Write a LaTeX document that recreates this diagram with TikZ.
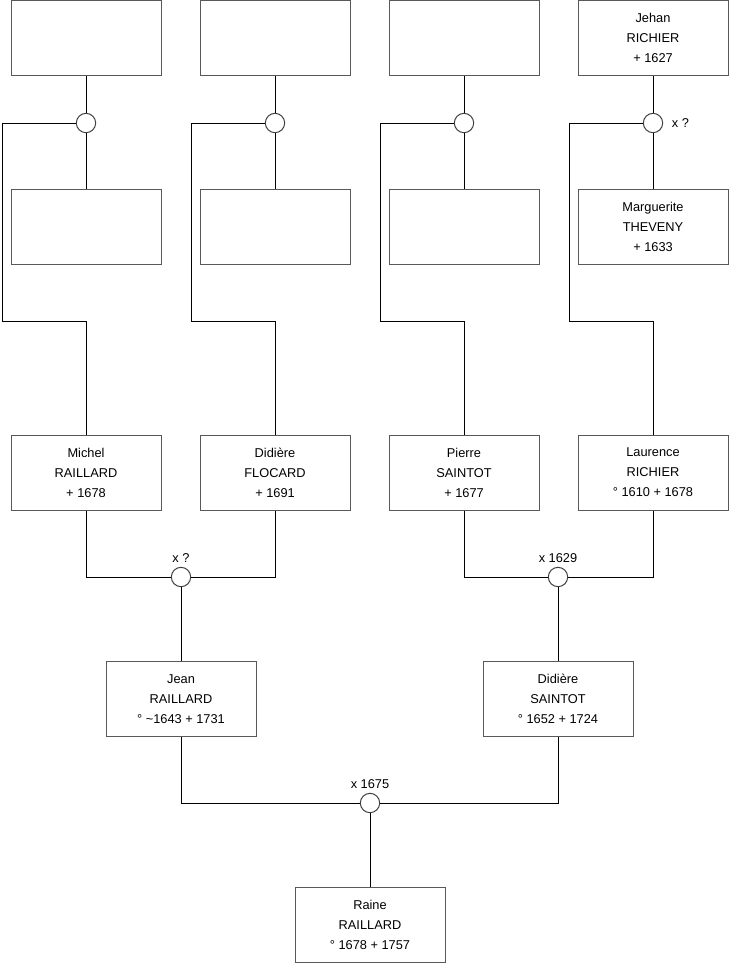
\documentclass[tikz,border=0pt]{standalone}
\usepackage{fontspec}
\setmainfont{Liberation Sans}
\begin{document}
\begin{tikzpicture}[
    x=0.75pt, y=-0.75pt,
    every node/.style={font=\fontsize{9.6}{15}\selectfont},
    person/.style={draw=black!65, line width=0.75pt, minimum width=112.5pt,
        minimum height=56.25pt, align=center, inner sep=0pt},
    union/.style={circle, draw=black!75, fill=white, line width=0.75pt,
        minimum size=14.5pt, inner sep=0pt},
    link/.style={draw=black, line width=0.75pt}
]
\useasboundingbox (0,0) rectangle (740,975);

% great-grandparents
\node[person] (t1) at (86,38) {};
\node[person] (t2) at (275,38) {};
\node[person] (t3) at (464,38) {};
\node[person] (t4) at (653,38) {Jehan\\RICHIER\\+ 1627};
\node[union] (c1) at (86,123) {};
\node[union] (c2) at (275,123) {};
\node[union] (c3) at (464,123) {};
\node[union, label={[label distance=3pt]right:x ?}] (c4) at (653,123) {};
\node[person] (w1) at (86,226.5) {};
\node[person] (w2) at (275,226.5) {};
\node[person] (w3) at (464,226.5) {};
\node[person] (w4) at (653,226.5) {Marguerite\\THEVENY\\+ 1633};

% grandparents
\node[person] (michel) at (86,472.5) {Michel\\RAILLARD\\+ 1678};
\node[person] (flocard) at (275,472.5) {Didière\\FLOCARD\\+ 1691};
\node[person] (pierre) at (464,472.5) {Pierre\\SAINTOT\\+ 1677};
\node[person] (laurence) at (653,472.5) {Laurence\\RICHIER\\° 1610 + 1678};
\node[union, label=above:x ?] (u1) at (181,577) {};
\node[union, label=above:x 1629] (u2) at (558,577) {};

% parents
\node[person] (jean) at (181,699) {Jean\\RAILLARD\\° \textasciitilde1643 + 1731};
\node[person] (saintot) at (558,699) {Didière\\SAINTOT\\° 1652 + 1724};
\node[union, label=above:x 1675] (u3) at (370,803) {};
\node[person] (raine) at (370,925) {Raine\\RAILLARD\\° 1678 + 1757};

\coordinate (k1) at (2,321);
\coordinate (k2) at (191,321);
\coordinate (k3) at (380,321);
\coordinate (k4) at (569,321);

\draw[link] (t1) -- (c1) -- (w1);
\draw[link] (t2) -- (c2) -- (w2);
\draw[link] (t3) -- (c3) -- (w3);
\draw[link] (t4) -- (c4) -- (w4);
\draw[link] (c1.west) -| (k1) -| (michel.north);
\draw[link] (c2.west) -| (k2) -| (flocard.north);
\draw[link] (c3.west) -| (k3) -| (pierre.north);
\draw[link] (c4.west) -| (k4) -| (laurence.north);

\draw[link] (michel.south) |- (u1.west);
\draw[link] (flocard.south) |- (u1.east);
\draw[link] (pierre.south) |- (u2.west);
\draw[link] (laurence.south) |- (u2.east);
\draw[link] (u1) -- (jean);
\draw[link] (u2) -- (saintot);

\draw[link] (jean.south) |- (u3.west);
\draw[link] (saintot.south) |- (u3.east);
\draw[link] (u3) -- (raine);
\end{tikzpicture}
\end{document}
